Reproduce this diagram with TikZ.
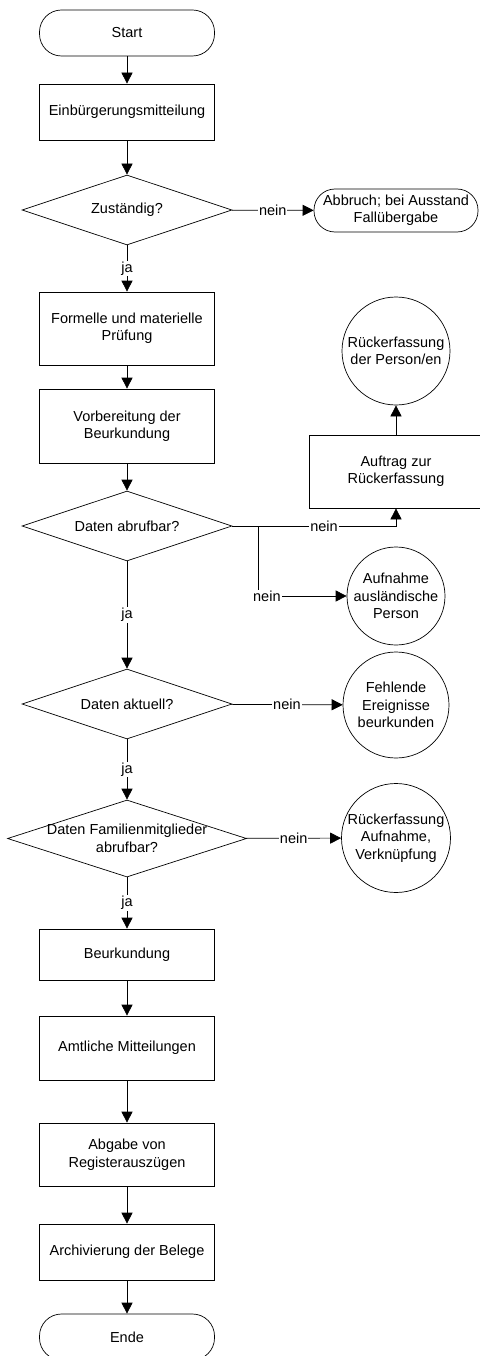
\documentclass[tikz,border=0pt]{standalone}
\usepackage{fontspec}
\setmainfont{Liberation Sans}
\usetikzlibrary{shapes.geometric,arrows.meta}
\begin{document}
\begin{tikzpicture}[x=1pt,y=-1pt,line width=0.7pt,
	font=\fontsize{14.5}{17.5}\selectfont,
	every node/.style={align=center,inner sep=0pt},
	box/.style={draw,minimum width=175pt},
	term/.style={draw,rounded corners=22pt,minimum width=175pt,minimum height=46pt},
	entscheid/.style={draw,diamond,aspect=3,minimum width=210pt,minimum height=70pt},
	kreis/.style={draw,circle},
	lbl/.style={fill=white,inner sep=1pt},
	pfeil/.style={-{Triangle[length=11pt,width=11pt]}}]
	\useasboundingbox (0,0) rectangle (479,1356);
	% Hauptablauf
	\node[term] (start) at (127,33) {Start};
	\node[box,minimum height=56pt] (einb) at (127,112) {Einbürgerungsmitteilung};
	\node[entscheid] (zust) at (127,210) {Zuständig?};
	\node[box,minimum height=73pt] (pruef) at (127,328.5) {Formelle und materielle\\Prüfung};
	\node[box,minimum height=74pt] (vorb) at (127,426) {Vorbereitung der\\Beurkundung};
	\node[entscheid] (abruf) at (127,526) {Daten abrufbar?};
	\node[entscheid] (aktuell) at (127,704) {Daten aktuell?};
	\node[entscheid,aspect=3.1,inner xsep=-20pt,minimum width=239pt,minimum height=77pt] (famil) at (127,838.5) {Daten Familienmitglieder\\abrufbar?};
	\node[box,minimum height=51pt] (beurk) at (127,954.5) {Beurkundung};
	\node[box,minimum height=64pt] (amtl) at (127,1048) {Amtliche Mitteilungen};
	\node[box,minimum height=63pt] (abgabe) at (127,1154.5) {Abgabe von\\Registerauszügen};
	\node[box,minimum height=56pt] (archiv) at (127,1252) {Archivierung der Belege};
	\node[term] (ende) at (127,1337) {Ende};
	% Nebenzweige
	\node[term,rounded corners=21pt,minimum width=164pt,minimum height=43pt] (abbruch) at (396,210.5) {Abbruch; bei Ausstand\\Fallübergabe};
	\node[kreis,minimum size=108pt] (rueck) at (396,351) {Rückerfassung\\der Person/en};
	\node[box,minimum width=174pt,minimum height=73pt] (auftrag) at (396,471.5) {Auftrag zur\\Rückerfassung};
	\node[kreis,minimum size=98pt] (aufn) at (396,596) {Aufnahme\\ausländische\\Person};
	\node[kreis,minimum size=106pt] (fehl) at (396,705) {Fehlende\\Ereignisse\\beurkunden};
	\node[kreis,minimum size=109pt] (rueckauf) at (396,838) {Rückerfassung\\Aufnahme,\\Verknüpfung};
	\coordinate (split) at (258,526);

	\draw[pfeil] (start) -- (einb);
	\draw[pfeil] (einb) -- (zust);
	\draw[pfeil] (zust) -- node[lbl] {ja} (pruef);
	\draw[pfeil] (zust) -- node[lbl] {nein} (abbruch);
	\draw[pfeil] (pruef) -- (vorb);
	\draw[pfeil] (vorb) -- (abruf);
	\draw[pfeil] (abruf.east) -| node[lbl,pos=0.28] {nein} (auftrag.south);
	\draw[pfeil] (auftrag) -- (rueck);
	\draw[pfeil] (split) |- node[lbl,pos=0.55] {nein} (aufn);
	\draw[pfeil] (abruf) -- node[lbl] {ja} (aktuell);
	\draw[pfeil] (aktuell) -- node[lbl] {nein} (fehl);
	\draw[pfeil] (aktuell) -- node[lbl] {ja} (famil);
	\draw[pfeil] (famil) -- node[lbl] {nein} (rueckauf);
	\draw[pfeil] (famil) -- node[lbl] {ja} (beurk);
	\draw[pfeil] (beurk) -- (amtl);
	\draw[pfeil] (amtl) -- (abgabe);
	\draw[pfeil] (abgabe) -- (archiv);
	\draw[pfeil] (archiv) -- (ende);
\end{tikzpicture}
\end{document}
